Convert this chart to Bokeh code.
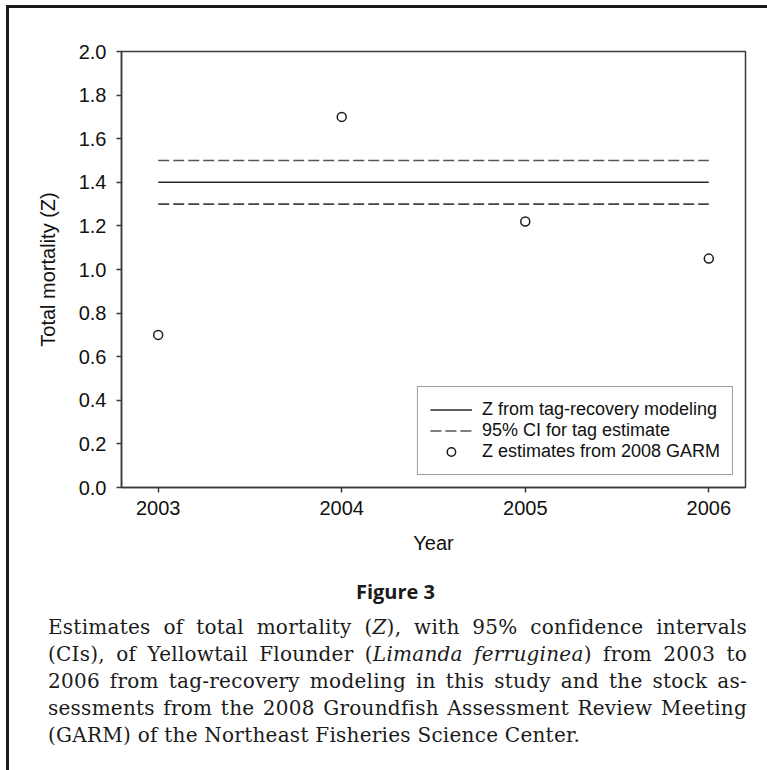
from bokeh.plotting import figure
from bokeh.models import (Div, Legend, LegendItem, FixedTicker, Range1d,
                          NumeralTickFormatter)
from bokeh.layouts import column
from bokeh.embed import file_html
from bokeh.resources import INLINE

# ---- data ----
years = [2003, 2004, 2005, 2006]
garm_z = [0.70, 1.70, 1.22, 1.05]
tag_years = [2003, 2006]
tag_z = [1.40, 1.40]
ci_low = [1.30, 1.30]
ci_high = [1.50, 1.50]
y_ticks = [0.0, 0.2, 0.4, 0.6, 0.8, 1.0, 1.2, 1.4, 1.6, 1.8, 2.0]
x_ticks = [2003, 2004, 2005, 2006]

AX = "#3a3a3a"
FONT = "Liberation Sans"

p = figure(frame_width=624, frame_height=436,
           min_border_left=112, min_border_right=22,
           min_border_top=43, min_border_bottom=78,
           x_range=Range1d(2002.8, 2006.2), y_range=Range1d(0, 2),
           output_backend="svg", toolbar_location=None)
p.xgrid.visible = False
p.ygrid.visible = False
p.outline_line_color = AX
p.outline_line_width = 1.5
p.background_fill_color = "white"
p.border_fill_color = "white"

r_solid = p.line(tag_years, tag_z, line_color="#2a2a2a", line_width=1.6)
r_hi = p.line(tag_years, ci_high, line_color="#555555", line_width=1.6,
              line_dash="11 4")
r_lo = p.line(tag_years, ci_low, line_color="#444444", line_width=1.6,
              line_dash="11 4")
r_pts = p.scatter(years, garm_z, marker="circle", size=9,
                  fill_color=None, line_color="#1a1a1a", line_width=1.5)

for ax in (p.xaxis[0], p.yaxis[0]):
    ax.axis_line_color = AX
    ax.axis_line_width = 1.5
    ax.major_tick_line_color = AX
    ax.major_tick_line_width = 1.5
    ax.major_tick_out = 5
    ax.major_tick_in = 0
    ax.minor_tick_line_color = None
    ax.major_label_text_font = FONT
    ax.major_label_text_font_size = "20px"
    ax.major_label_text_color = "#111111"
    ax.axis_label_text_font = FONT
    ax.axis_label_text_font_size = "20px"
    ax.axis_label_text_font_style = "normal"
    ax.axis_label_text_color = "#111111"

p.xaxis.ticker = FixedTicker(ticks=x_ticks)
p.yaxis.ticker = FixedTicker(ticks=y_ticks)
p.yaxis.formatter = NumeralTickFormatter(format="0.0")
p.xaxis.axis_label = "Year"
p.yaxis.axis_label = "Total mortality (Z)"
p.xaxis.major_label_standoff = 8
p.yaxis.major_label_standoff = 10
p.xaxis.axis_label_standoff = 14
p.yaxis.axis_label_standoff = 17

legend = Legend(items=[
    LegendItem(label="Z from tag-recovery modeling", renderers=[r_solid]),
    LegendItem(label="95% CI for tag estimate", renderers=[r_hi]),
    LegendItem(label="Z estimates from 2008 GARM", renderers=[r_pts]),
], location="bottom_right")
legend.border_line_color = AX
legend.border_line_width = 1
legend.background_fill_color = "white"
legend.background_fill_alpha = 1
legend.margin = 12
legend.padding = 12
legend.spacing = 0
legend.glyph_width = 42
legend.glyph_height = 21
legend.label_height = 21
legend.label_standoff = 10
legend.label_text_font = FONT
legend.label_text_font_size = "18px"
legend.label_text_color = "#111111"
p.add_layout(legend)

caption_lines = [
    "Estimates of total mortality (<i>Z</i>), with 95% confidence intervals",
    "(CIs), of Yellowtail Flounder (<i>Limanda ferruginea</i>) from 2003 to",
    "2006 from tag-recovery modeling in this study and the stock as-",
    "sessments from the 2008 Groundfish Assessment Review Meeting",
    "(GARM) of the Northeast Fisheries Science Center.",
]
justify = "text-align:justify;text-align-last:justify;white-space:nowrap;"
rows = "".join(
    f'<div style="{justify if i < len(caption_lines) - 1 else "white-space:nowrap;"}">{t}</div>'
    for i, t in enumerate(caption_lines))
html = (
    '<div style="width:699px;margin-left:34px;">'
    '<div style="font-family:\'Open Sans\';font-weight:700;font-size:20px;'
    'line-height:24px;text-align:center;color:#1a1a1a;padding-top:10px;'
    'margin-left:-4px;">Figure 3</div>'
    '<div style="font-family:\'DejaVu Serif\';font-size:20px;line-height:27px;'
    'letter-spacing:0.25px;color:#1a1a1a;margin-top:10px;">' + rows + '</div></div>'
)
cap = Div(text=html, width=758, height=200)

layout = column(p, cap, styles={"border-left": "3px solid #1a1a1a",
                                "border-top": "3px solid #1a1a1a",
                                "margin-left": "6px",
                                "margin-top": "5px",
                                "background-color": "white"})

open("out.html", "w").write(file_html(layout, INLINE))
